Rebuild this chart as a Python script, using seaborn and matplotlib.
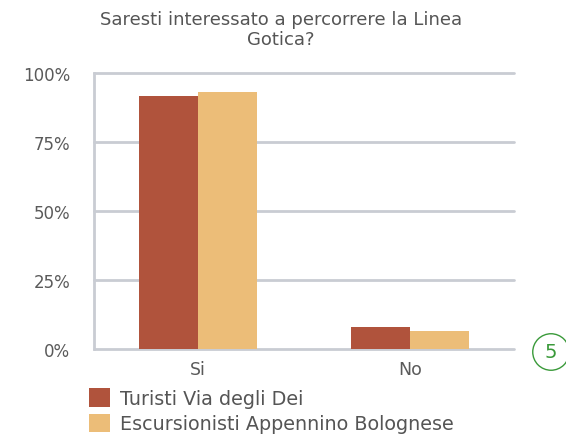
import matplotlib.pyplot as plt
import pandas as pd
import seaborn as sns
from matplotlib.patches import Patch

# dati
risposte = ["Si", "No"]
gruppi = ["Turisti Via degli Dei", "Escursionisti Appennino Bolognese"]
turisti = [91.7, 8.0]
escursionisti = [93.1, 6.5]
tick_vals = [0, 25, 50, 75, 100]
tick_labels = ["0%", "25%", "50%", "75%", "100%"]
colori = ["#b0533c", "#ecbd78"]

df = pd.DataFrame({
    "Risposta": risposte * 2,
    "Gruppo": [gruppi[0]] * 2 + [gruppi[1]] * 2,
    "Valore": turisti + escursionisti,
})

sns.set_theme(style="white")
plt.rcParams["font.family"] = ["DejaVu Sans"]

fig = plt.figure(figsize=(5.66, 4.39), dpi=100)
ax = fig.add_axes([94 / 566, 1 - 350 / 439, 420 / 566, 276 / 439])

sns.barplot(data=df, x="Risposta", y="Valore", hue="Gruppo", palette=colori,
            width=0.56, gap=0, saturation=1, linewidth=0, ax=ax, legend=False, zorder=3)

ax.set_xlim(-0.49, 1.49)
ax.set_ylim(0, 100)
ax.set_yticks(tick_vals)
ax.set_yticklabels(tick_labels)
ax.yaxis.grid(True, color="#c9ccd3", linewidth=2, zorder=0)
for linea in ax.get_ygridlines():
    linea.set_clip_on(False)
ax.set_axisbelow(True)
for lato in ["top", "right", "bottom"]:
    ax.spines[lato].set_visible(False)
ax.spines["left"].set_color("#c9ccd3")
ax.spines["left"].set_linewidth(2)
ax.tick_params(axis="both", length=0, colors="#5a5a5a")
ax.tick_params(axis="y", pad=17, labelsize=12)
ax.tick_params(axis="x", pad=8, labelsize=12.5)
ax.set_xlabel("")
ax.set_ylabel("")

fig.text(281 / 566, 1 - 30 / 439, "Saresti interessato a percorrere la Linea\nGotica?",
         ha="center", va="center", fontsize=13, color="#555555", linespacing=1.1)

handles = [Patch(facecolor=c, edgecolor="none") for c in colori]
fig.legend(handles, gruppi, loc="upper left", bbox_to_anchor=(89 / 566, 1 - 389 / 439),
           frameon=False, fontsize=13.8, handlelength=1.12, handleheight=1.12,
           handletextpad=0.5, labelspacing=0.3, borderpad=0, borderaxespad=0,
           labelcolor="#555555")

fig.text(551 / 566, 1 - 353 / 439, "5", ha="center", va="center", fontsize=14,
         color="#3a9a3a",
         bbox=dict(boxstyle="circle,pad=0.45", facecolor="white",
                   edgecolor="#3a9a3a", linewidth=1))

fig.savefig("out.png", dpi=100)
